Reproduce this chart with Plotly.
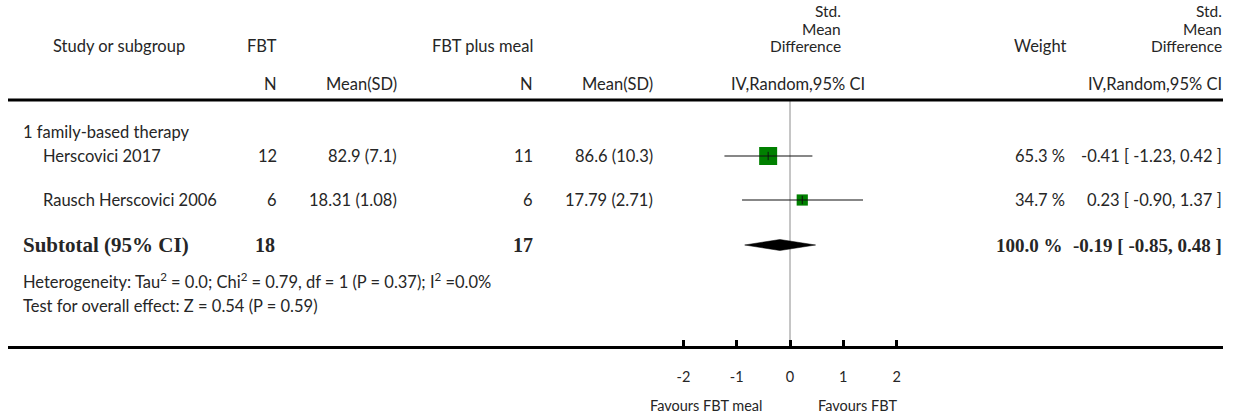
import plotly.graph_objects as go

# ---------------- data ----------------
studies = ["Herscovici 2017", "Rausch Herscovici 2006"]
fbt_n = [12, 6]
fbt_mean_sd = ["82.9 (7.1)", "18.31 (1.08)"]
meal_n = [11, 6]
meal_mean_sd = ["86.6 (10.3)", "17.79 (2.71)"]
smd = [-0.41, 0.23]
ci_low = [-1.23, -0.90]
ci_high = [0.42, 1.37]
weights = [65.3, 34.7]

group_label = "1 family-based therapy"
subtotal_fbt_n = 18
subtotal_meal_n = 17
subtotal_weight = 100.0
subtotal_smd = -0.19
subtotal_low = -0.85
subtotal_high = 0.48
heterogeneity = "Heterogeneity: Tau<sup>2</sup> = 0.0; Chi<sup>2</sup> = 0.79, df = 1 (P = 0.37); I<sup>2</sup> =0.0%"
overall_test = "Test for overall effect: Z = 0.54 (P = 0.59)"
axis_ticks = [-2, -1, 0, 1, 2]
axis_tick_labels = ["-2", "-1", "0", "1", "2"]
favours_left = "Favours FBT meal"
favours_right = "Favours FBT"

# ---------------- layout constants (pixels) ----------------
W, H = 1241, 414
ZERO_PX = 790.0
UNIT_PX = 53.3
LINE_L, LINE_R = 8, 1223
xmin = -(ZERO_PX - LINE_L) / UNIT_PX
xmax = (LINE_R - ZERO_PX) / UNIT_PX

Y_STD, Y_MEAN, Y_DIFF, Y_SUB = 11, 28.5, 46, 84
Y_HLINE = 100
Y_GROUP = 132
Y_ROWS = [156, 200]
Y_SUBTOTAL = 245
Y_HET = 281
Y_TEST = 306
Y_AXIS = 347
Y_FAV = 405

FONT = "Lato"
SERIF = "Liberation Serif"
TXT = "#262626"
FS = 16.5
FS_STACK = 15.5

fig = go.Figure()

def px(x):
    return x / W

annotations = []

def txt(x, y, s, anchor="left", size=FS, family=FONT, bold=False):
    annotations.append(dict(
        x=px(x), y=y, xref="paper", yref="y", text=("<b>%s</b>" % s) if bold else s,
        xanchor=anchor, yanchor="middle", showarrow=False, borderpad=0,
        font=dict(family=family, size=size, color=TXT)))

# headers
txt(52, Y_DIFF, "Study or subgroup")
txt(278, Y_DIFF, "FBT", "right")
txt(278, Y_SUB, "N", "right")
txt(398, Y_SUB, "Mean(SD)", "right")
txt(534, Y_DIFF, "FBT plus meal", "right")
txt(534, Y_SUB, "N", "right")
txt(654, Y_SUB, "Mean(SD)", "right")
for xr in (842, 1223):
    txt(xr, Y_STD, "Std.", "right", size=FS_STACK)
    txt(xr, Y_MEAN, "Mean", "right", size=FS_STACK)
    txt(xr, Y_DIFF, "Difference", "right", size=FS_STACK)
txt(866, Y_SUB, "IV,Random,95% CI", "right")
txt(1223, Y_SUB, "IV,Random,95% CI", "right")
txt(1040, Y_DIFF, "Weight", "center")

# group + studies
txt(22, Y_GROUP, group_label)
for i, s in enumerate(studies):
    y = Y_ROWS[i]
    txt(42, y, s)
    txt(278, y, str(fbt_n[i]), "right")
    txt(398, y, fbt_mean_sd[i], "right")
    txt(534, y, str(meal_n[i]), "right")
    txt(654, y, meal_mean_sd[i], "right")
    txt(1066, y, "%.1f %%" % weights[i], "right")
    txt(1223, y, "%.2f [ %.2f, %.2f ]" % (smd[i], ci_low[i], ci_high[i]), "right")

# subtotal
txt(22, Y_SUBTOTAL, "Subtotal (95% CI)", size=21, family=SERIF, bold=True)
txt(276, Y_SUBTOTAL, str(subtotal_fbt_n), "right", size=20, family=SERIF, bold=True)
txt(534, Y_SUBTOTAL, str(subtotal_meal_n), "right", size=20, family=SERIF, bold=True)
txt(1064, Y_SUBTOTAL, "%.1f %%" % subtotal_weight, "right", size=19, family=SERIF, bold=True)
txt(1223, Y_SUBTOTAL, "%.2f [ %.2f, %.2f ]" % (subtotal_smd, subtotal_low, subtotal_high),
    "right", size=19, family=SERIF, bold=True)
txt(22, Y_HET, heterogeneity)
txt(22, Y_TEST, overall_test)

# favours labels
txt(ZERO_PX - 27, Y_FAV, favours_left, "right", size=14.5)
txt(ZERO_PX + 27, Y_FAV, favours_right, "left", size=14.5)

# null line
fig.add_trace(go.Scatter(x=[0, 0], y=[Y_HLINE, Y_AXIS], mode="lines",
                         line=dict(color="#8c8c8c", width=1), hoverinfo="skip"))

# squares
sizes = [18 * (w / max(weights)) ** 0.75 for w in weights]
fig.add_trace(go.Scatter(x=smd, y=Y_ROWS, mode="markers",
                         marker=dict(symbol="square", size=sizes, color="#008000", opacity=1,
                                     line=dict(width=0)), hoverinfo="skip"))
# CI lines
for i in range(len(studies)):
    fig.add_trace(go.Scatter(x=[ci_low[i], ci_high[i]], y=[Y_ROWS[i], Y_ROWS[i]], mode="lines",
                             line=dict(color="#111111", width=1.2), hoverinfo="skip"))
fig.add_trace(go.Scatter(x=smd, y=Y_ROWS, mode="markers",
                         marker=dict(symbol="line-ns", size=6, opacity=1,
                                     line=dict(width=1, color="#111111")), hoverinfo="skip"))

# diamond
dh = 5.5
fig.add_trace(go.Scatter(
    x=[subtotal_low, subtotal_smd, subtotal_high, subtotal_smd, subtotal_low],
    y=[Y_SUBTOTAL, Y_SUBTOTAL - dh, Y_SUBTOTAL, Y_SUBTOTAL + dh, Y_SUBTOTAL],
    mode="lines", fill="toself", fillcolor="#000000",
    line=dict(color="#000000", width=0.5), hoverinfo="skip"))

# header line
shapes = [dict(type="line", xref="paper", yref="y", x0=px(LINE_L), x1=px(LINE_R),
               y0=Y_HLINE, y1=Y_HLINE, line=dict(color="#000000", width=3))]

fig.update_layout(
    width=W, height=H, margin=dict(l=0, r=0, t=0, b=0),
    paper_bgcolor="white", plot_bgcolor="white", showlegend=False,
    annotations=annotations, shapes=shapes,
    xaxis=dict(domain=[LINE_L / W, LINE_R / W], range=[xmin, xmax],
               anchor="free", position=(H - Y_AXIS) / H,
               showgrid=False, zeroline=False, showline=True, linewidth=3, linecolor="#000000",
               ticks="inside", ticklen=6, tickwidth=3, tickcolor="#000000",
               tickvals=axis_ticks, ticktext=axis_tick_labels,
               tickfont=dict(family=FONT, size=14.5, color=TXT), ticklabelstandoff=16),
    yaxis=dict(domain=[0, 1], range=[H, 0], visible=False, showgrid=False, zeroline=False),
)

fig.write_html("out.html", config={"displayModeBar": False},
               post_script="document.body.style.margin='0px';document.body.style.overflow='hidden';")
